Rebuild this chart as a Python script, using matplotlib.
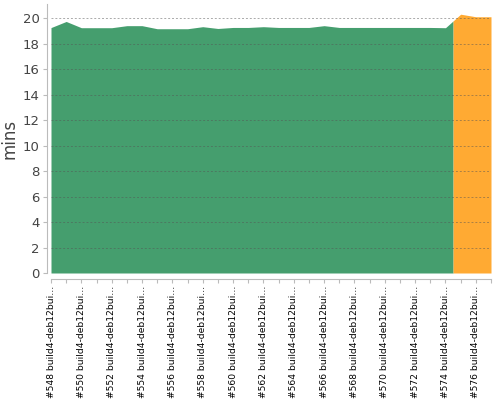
import matplotlib.pyplot as plt
import numpy as np

builds = list(range(548, 578))
durations = [19.25, 19.73, 19.24, 19.24, 19.24, 19.4, 19.4, 19.16, 19.16, 19.16,
             19.32, 19.18, 19.26, 19.26, 19.32, 19.26, 19.26, 19.26, 19.4, 19.26,
             19.26, 19.26, 19.26, 19.26, 19.26, 19.26, 19.24, 20.3, 20.1, 20.1]
unstable = [False] * 27 + [True] * 3

GREEN = "#459E6E"
ORANGE = "#FFAA33"
TXT = "#444444"
AXC = "#BBBBBB"

fig = plt.figure(figsize=(5, 4), dpi=100)
ax = fig.add_axes([51 / 500, 1 - 273 / 400, 440 / 500, 269 / 400])

# spines first: moving them resets the ticks
for s in ["top", "right"]:
    ax.spines[s].set_visible(False)
ax.spines["left"].set_position(("outward", 3))
ax.spines["bottom"].set_position(("outward", 4))
ax.spines["left"].set_color(AXC)
ax.spines["bottom"].set_color(AXC)

x = np.arange(len(builds))
y = np.array(durations)

# group consecutive builds with same status, area split halfway between builds
groups = []
start = 0
for i in range(1, len(x) + 1):
    if i == len(x) or unstable[i] != unstable[start]:
        groups.append((start, i - 1))
        start = i
for a, b in groups:
    xs = list(x[a:b + 1])
    ys = list(y[a:b + 1])
    if a > 0:
        xs = [a - 0.5] + xs
        ys = [(y[a - 1] + y[a]) / 2] + ys
    if b < len(x) - 1:
        xs = xs + [b + 0.5]
        ys = ys + [(y[b] + y[b + 1]) / 2]
    col = ORANGE if unstable[a] else GREEN
    ax.fill_between(xs, 0, ys, color=col, lw=0, zorder=2)

ax.set_xlim(0, len(x) - 1)
ax.set_ylim(0, 21.1)
ax.set_yticks(range(0, 21, 2))
ax.yaxis.grid(True, color="#555555", alpha=0.5, linestyle=(0, (2, 2)), linewidth=0.7, zorder=3)
ax.set_axisbelow(False)

ax.set_xticks(x)
ax.set_xticklabels([f"#{b} build4-deb12bui…" if i % 2 == 0 else "" for i, b in enumerate(builds)],
                   rotation=90, fontsize=6.6, color="black")

ax.tick_params(axis="y", colors=AXC, labelcolor=TXT, labelsize=9.5, length=3, pad=2)
ax.tick_params(axis="x", colors=AXC, labelcolor="black", length=3, pad=2)
ax.set_ylabel("mins", fontsize=12, color=TXT, labelpad=3)

fig.savefig("out.png", dpi=100)
